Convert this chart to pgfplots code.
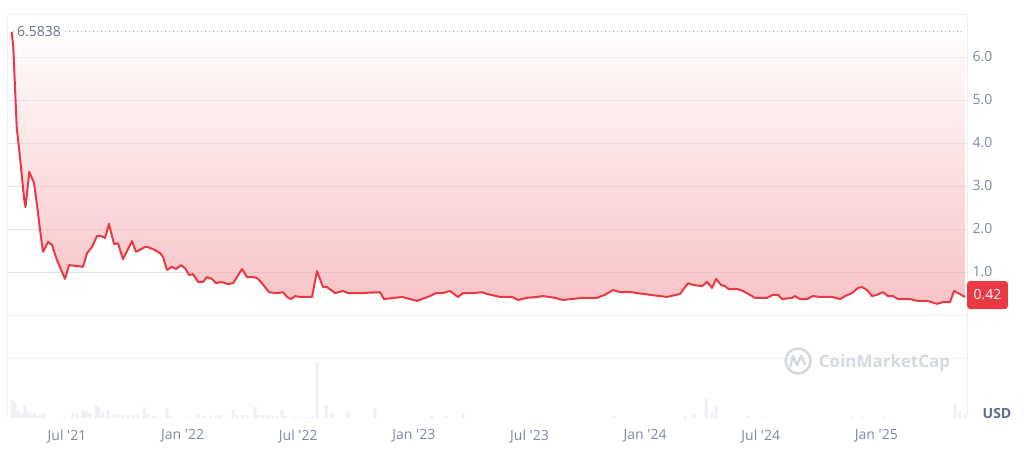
\documentclass[border=0pt]{standalone}
\usepackage{fontspec}
\setmainfont{Open Sans}
\usepackage{pgfplots}
\usepackage{pgfplotstable}
\pgfplotsset{compat=1.18}
\definecolor{cmcred}{HTML}{EA3943}
\definecolor{tickgray}{HTML}{808A9D}
\definecolor{labgray}{HTML}{6A7385}
\definecolor{usdgray}{HTML}{616E85}
\definecolor{gridc}{HTML}{EFF1F4}
\definecolor{framec}{HTML}{EEF0F3}
\definecolor{volc}{HTML}{EEF0F4}
\definecolor{wmc}{HTML}{D5DAE1}
\definecolor{fillbot}{HTML}{F8C4C7}
\definecolor{filltop}{HTML}{FFFDFD}

\pgfplotstableread{
m v
3.130 6.58
3.213 6.23
3.390 4.37
3.587 3.55
3.784 2.67
3.846 2.51
4.044 3.33
4.288 3.07
4.443 2.56
4.599 1.98
4.755 1.47
5.014 1.70
5.222 1.63
5.481 1.28
5.896 0.84
6.104 1.16
6.519 1.14
6.830 1.12
7.038 1.44
7.297 1.58
7.556 1.84
7.816 1.83
7.972 1.79
8.179 2.12
8.439 1.65
8.646 1.67
8.906 1.30
9.373 1.72
9.580 1.47
10.048 1.58
10.203 1.58
10.566 1.51
10.826 1.44
10.982 1.35
11.189 1.05
11.449 1.12
11.657 1.07
11.916 1.16
12.124 1.09
12.331 0.93
12.539 0.95
12.798 0.77
13.058 0.77
13.265 0.88
13.525 0.84
13.732 0.74
13.992 0.77
14.355 0.72
14.615 0.74
14.822 0.88
15.082 1.07
15.341 0.88
15.652 0.88
15.860 0.86
16.119 0.74
16.483 0.53
16.898 0.51
17.209 0.53
17.417 0.42
17.624 0.37
17.832 0.44
18.091 0.42
18.714 0.42
18.974 1.02
19.285 0.65
19.492 0.65
19.907 0.51
20.323 0.56
20.582 0.51
21.205 0.51
22.243 0.53
22.450 0.37
23.384 0.42
24.163 0.33
24.837 0.44
25.149 0.51
25.512 0.51
25.875 0.56
26.291 0.42
26.550 0.51
27.069 0.51
27.536 0.53
27.796 0.49
28.470 0.42
29.093 0.42
29.404 0.35
29.871 0.40
30.390 0.42
30.702 0.44
31.324 0.40
31.739 0.35
32.777 0.40
33.504 0.40
33.919 0.47
34.334 0.58
34.698 0.53
35.320 0.53
35.580 0.51
36.255 0.47
37.137 0.42
37.811 0.49
38.226 0.74
38.486 0.70
38.953 0.67
39.212 0.77
39.472 0.63
39.679 0.84
39.939 0.70
40.146 0.67
40.354 0.60
40.821 0.60
41.080 0.56
41.703 0.40
42.326 0.40
42.637 0.47
42.897 0.47
43.104 0.37
43.623 0.40
43.779 0.44
44.038 0.37
44.402 0.37
44.713 0.44
45.076 0.42
45.699 0.42
46.114 0.37
46.374 0.44
46.737 0.51
47.048 0.63
47.256 0.65
47.515 0.58
47.775 0.44
48.034 0.47
48.346 0.53
48.605 0.44
48.865 0.44
49.124 0.37
49.747 0.37
50.110 0.33
50.629 0.33
51.148 0.26
51.459 0.30
51.822 0.30
52.030 0.56
52.238 0.51
52.601 0.42
}\price

\pgfplotstableread{
m h
3.146 18
3.301 15
3.457 7
3.665 5
3.820 13
3.976 6
4.184 4
4.339 5
4.547 4
4.755 5
5.896 1
6.311 5
6.519 5
6.830 8
6.986 7
7.193 5
7.505 13
7.660 11
7.868 6
8.128 8
8.387 4
8.646 4
8.906 3
9.165 3
9.425 3
9.684 3
9.996 11
10.203 4
10.463 2
10.670 1
11.189 10
11.345 2
12.227 1
12.798 3
13.058 2
13.421 1
13.732 3
13.940 3
14.615 8
14.822 4
15.082 3
15.341 3
15.756 11
15.912 3
16.171 3
16.431 3
16.690 2
16.898 2
17.157 8
17.313 2
17.832 1
18.195 1
18.455 1
18.714 1
18.974 56
19.441 13
19.752 5
20.582 7
21.983 10
24.941 2
25.668 2
26.550 5
34.386 2
38.071 2
38.538 3
39.161 19
39.472 5
39.679 11
41.288 2
42.222 1
46.737 1
47.256 1
48.398 1
52.082 14
52.341 7
52.601 5
}\volume

\begin{document}
\begin{tikzpicture}[x=1pt,y=1pt,font=\fontsize{14}{16}\selectfont]
\path (0,0) rectangle (1024,455);
% volume
\begin{axis}[at={(8pt,37pt)}, anchor=south west, scale only axis,
  width=959pt, height=404pt, xmin=2.938, xmax=52.705, ymin=0, ymax=404,
  hide axis]
\addplot[ybar, bar width=3pt, fill=volc, draw=none] table[x=m,y=h]{\volume};
\end{axis}
% price
\begin{axis}[at={(8pt,37pt)}, anchor=south west, scale only axis,
  width=959pt, height=404pt, xmin=2.938, xmax=52.705, ymin=-2.395, ymax=7.0,
  axis line style={draw=none}, clip=false,
  ymajorgrids, major grid style={draw=gridc, line width=1pt},
  ytick={-1,0,1,2,3,4,5,6}, yticklabels={,,1.0,2.0,3.0,4.0,5.0,6.0},
  yticklabel pos=right,
  yticklabel style={anchor=west, xshift=2pt},
  xtick={6,12,18,24,30,36,42,48},
  xticklabels={Jul \textquotesingle21, Jan \textquotesingle22, Jul \textquotesingle22, Jan \textquotesingle23, Jul \textquotesingle23, Jan \textquotesingle24, Jul \textquotesingle24, Jan \textquotesingle25},
  xticklabel style={anchor=north, yshift=-8pt},
  major tick length=0pt,
  tick label style={font=\fontsize{14}{16}\selectfont, text=tickgray}]
\draw[framec, line width=1pt] (rel axis cs:0,0) -- (rel axis cs:0,1) -- (rel axis cs:1,1) -- (rel axis cs:1,0);
\addplot[draw=none, top color=filltop, bottom color=fillbot, forget plot] table[x=m,y=v]{\price} -- (axis cs:52.601,6.5838) -- (axis cs:3.130,6.5838) -- cycle;
\pgfplotsinvokeforeach{1,...,6}{
  \draw[draw=black, draw opacity=0.05, line width=1pt] (axis cs:2.938,#1) -- (axis cs:52.705,#1);
}
\addplot[tickgray!80, line width=1pt, dash pattern=on 1pt off 3pt] coordinates {(3.2,6.5838) (52.6,6.5838)};
\addplot[cmcred, line width=2pt, line join=round] table[x=m,y=v]{\price};
\node[anchor=west, fill=white, text=labgray, inner sep=3pt, rounded corners=3pt] at (axis cs:3.25,6.5838) {6.5838};
\node[anchor=west, fill=cmcred, text=white, rounded corners=3pt, minimum height=28pt, inner xsep=6.5pt] at (axis cs:52.705,0.465) {0.42};
\end{axis}
% watermark
\node[text=wmc, font=\bfseries\fontsize{17}{20}\selectfont] at (884.5,92) {CoinMarketCap};
\draw[wmc, line width=2.5pt] (798,94) circle (12.5);
\draw[wmc, line width=2.5pt, line join=round, line cap=round] (790,88) -- (793,99) -- (797,90) -- (801,99) -- (805,91);
\node[text=usdgray, font=\bfseries\fontsize{14}{16}\selectfont] at (997,42) {USD};
\end{tikzpicture}
\end{document}
